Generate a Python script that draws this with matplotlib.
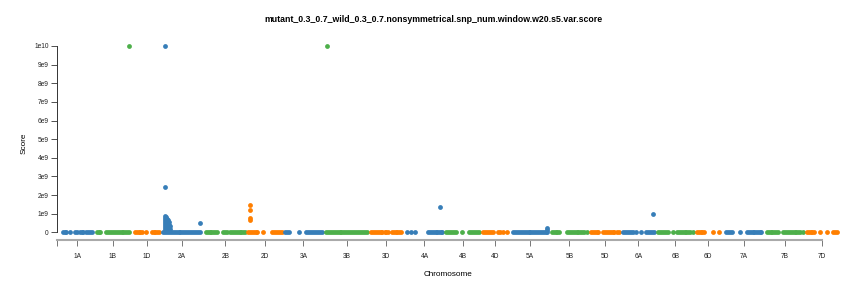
import matplotlib
matplotlib.use("Agg")
import matplotlib.pyplot as plt
import numpy as np

plt.rcParams["font.family"] = ["Liberation Sans", "DejaVu Sans"]

chromosomes = ["1A", "1B", "1D", "2A", "2B", "2D", "3A", "3B", "3D", "4A", "4B",
               "4D", "5A", "5B", "5D", "6A", "6B", "6D", "7A", "7B", "7D"]
chrom_lengths = [594, 689, 495, 780, 801, 651, 750, 830, 615, 744, 673,
                 509, 709, 713, 566, 618, 720, 473, 736, 750, 638]

# window positions (Mb within chromosome) whose score is 0
zero_positions = [
    [10, 40, 70, 130, 230, 270, 310, 345, 380, 420, 455, 490, 530],
    [30, 60, 85, 195, 230, 265, 300, 335, 370, 405, 440, 475, 510, 545, 580, 610],
    [30, 60, 95, 125, 158, 230, 340, 370, 400, 435, 465],
    [45, 80, 115, 150, 185, 220, 255, 290, 325, 360, 395, 430, 465, 500, 535, 570, 605, 640, 675, 714],
    [42, 75, 110, 140, 175, 210, 241, 350, 390, 430, 477, 513, 545, 580, 615, 650, 685, 720, 749],
    [5, 40, 75, 110, 140, 165, 275, 440, 475, 510, 545, 580, 618],
    [22, 58, 94, 275, 402, 440, 475, 510, 550, 585, 620, 655, 692],
    [15, 50, 85, 120, 155, 190, 225, 260, 295, 330, 365, 400, 435, 470, 505, 540, 575, 610, 645, 680, 715, 758],
    [5, 40, 75, 110, 145, 180, 200, 255, 280, 308, 380, 410, 445, 480, 510, 543],
    [37, 110, 182, 418, 450, 485, 520, 555, 590, 625, 650, 672],
    [5, 40, 75, 110, 145, 181, 290, 417, 450, 485, 520, 560, 598],
    [3, 40, 75, 110, 145, 178, 270, 315, 360, 432],
    [32, 65, 100, 135, 170, 210, 245, 280, 315, 350, 385, 420, 455, 490, 525, 560, 595, 630, 648],
    [30, 65, 100, 130, 157, 302, 335, 370, 405, 440, 475, 510, 545, 580, 615, 664],
    [24, 60, 95, 125, 150, 241, 275, 310, 345, 380, 415, 450, 490, 531],
    [37, 75, 110, 145, 180, 218, 273, 363, 454, 490, 525, 560, 599],
    [53, 90, 125, 160, 200, 234, 325, 397, 430, 465, 500, 535, 570, 605, 640, 687],
    [40, 75, 105, 135, 167, 330, 439],
    [93, 130, 165, 202, 347, 474, 505, 540, 575, 610, 645, 680, 705, 730],
    [95, 130, 165, 200, 235, 270, 299, 390, 425, 460, 495, 530, 565, 600, 635, 670, 705, 745],
    [74, 110, 140, 175, 201, 310, 437, 545, 580, 618],
]

# windows with a non-zero score
hit_chrom = ["1B", "2A", "2A",
             "2A", "2A", "2A", "2A", "2A", "2A", "2A", "2A",
             "2A", "2A", "2A", "2A", "2A", "2A", "2A",
             "2A", "2A", "2A", "2A", "2A",
             "2A", "2A", "2A", "2A", "2A", "2A", "2A", "2A",
             "2D", "2D", "2D", "2D",
             "3B", "4A", "5A", "5A", "6A"]
hit_pos = [611, 79, 79,
           75, 75, 75, 75, 75, 75, 75, 75,
           92, 92, 92, 92, 92, 92, 92,
           112, 112, 112, 112, 112,
           132, 132, 132, 152, 152, 172, 172, 714,
           38, 38, 38, 38,
           27, 636, 645, 645, 581]
hit_score = [1.0e10, 1.0e10, 2.45e9,
             0.85e9, 0.75e9, 0.65e9, 0.55e9, 0.45e9, 0.35e9, 0.25e9, 0.15e9,
             0.8e9, 0.7e9, 0.6e9, 0.5e9, 0.4e9, 0.3e9, 0.2e9,
             0.7e9, 0.6e9, 0.5e9, 0.35e9, 0.2e9,
             0.65e9, 0.45e9, 0.3e9, 0.55e9, 0.4e9, 0.35e9, 0.2e9, 0.5e9,
             1.48e9, 1.22e9, 0.77e9, 0.65e9,
             1.0e10, 1.35e9, 0.24e9, 0.1e9, 0.97e9]

palette = ["#377eb8", "#4daf4a", "#ff7f00"]
title = "mutant_0.3_0.7_wild_0.3_0.7.nonsymmetrical.snp_num.window.w20.s5.var.score"

offsets = np.concatenate([[0], np.cumsum(chrom_lengths)[:-1]])

fig = plt.figure(figsize=(8.66, 2.88), dpi=100)
ax = fig.add_axes([57 / 866, 48 / 288, 783 / 866, 194 / 288])

tick_pos = []
for i, name in enumerate(chromosomes):
    xs = list(zero_positions[i])
    ys = [0.0] * len(xs)
    for c, p, s in zip(hit_chrom, hit_pos, hit_score):
        if c == name:
            xs.append(p)
            ys.append(s)
    gx = np.array(xs) + offsets[i]
    ax.scatter(gx, ys, s=12, color=palette[i % 3], linewidths=0, clip_on=False, zorder=3)
    tick_pos.append((gx.min() + gx.max()) / 2)

x0 = -100
ax.set_xlim(x0, 14090)
ax.set_ylim(-0.413e9, 1e10)

ax.set_yticks(np.arange(0, 11) * 1e9)
ax.set_yticklabels(["0"] + [f"{i}e9" for i in range(1, 10)] + ["1e10"])
ax.set_xticks([x0] + tick_pos)
ax.set_xticklabels([""] + chromosomes)

for side in ("top", "right"):
    ax.spines[side].set_visible(False)
ax.spines["left"].set_bounds(0, 1e10)
ax.spines["left"].set_color("#333333")
ax.spines["left"].set_linewidth(0.7)
ax.spines["bottom"].set_bounds(x0, tick_pos[-1])
ax.spines["bottom"].set_color("#aaaaaa")
ax.spines["bottom"].set_linewidth(1.5)

ax.tick_params(axis="y", length=4, width=0.6, color="#333333", pad=2,
               labelsize=4.8, labelcolor="#222222")
ax.tick_params(axis="x", length=4.5, width=0.7, color="#777777", pad=5,
               labelsize=4.8, labelcolor="#222222")

ax.set_xlabel("Chromosome", fontsize=5.9, labelpad=8)
ax.set_ylabel("Score", fontsize=5.9, labelpad=5)
fig.text(0.5, 1 - 19 / 288, title, ha="center", va="center",
         fontsize=6.3, fontweight="bold")

fig.savefig("out.png", dpi=100)
